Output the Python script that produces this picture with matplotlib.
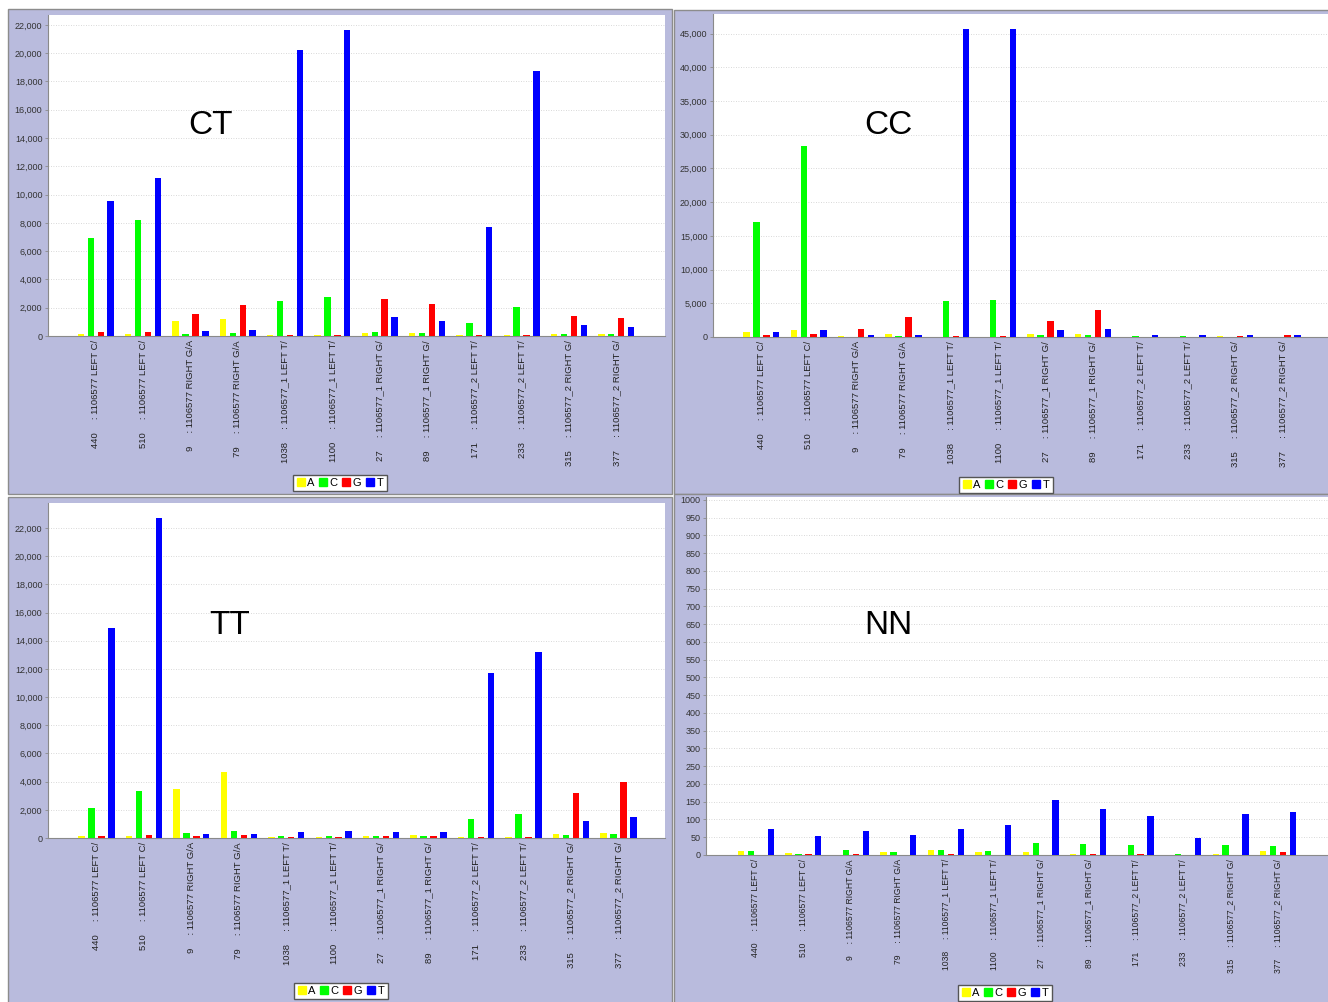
import matplotlib
matplotlib.use("Agg")
import matplotlib.pyplot as plt
import numpy as np
from matplotlib.patches import Rectangle
from matplotlib.ticker import FuncFormatter

plt.rcParams['font.family'] = ['Liberation Sans', 'DejaVu Sans']

W, H = 1328, 1002

bases = ['A', 'C', 'G', 'T']
base_colors = ['#ffff00', '#00ff00', '#ff0000', '#0000ff']

cat_nums = ['440', '510', '9', '79', '1038', '1100', '27', '89', '171', '233', '315', '377']
cat_text = ['1106577 LEFT C/', '1106577 LEFT C/', '1106577 RIGHT G/A', '1106577 RIGHT G/A',
            '1106577_1 LEFT T/', '1106577_1 LEFT T/', '1106577_1 RIGHT G/', '1106577_1 RIGHT G/',
            '1106577_2 LEFT T/', '1106577_2 LEFT T/', '1106577_2 RIGHT G/', '1106577_2 RIGHT G/']

# counts per base, one value per marker
ct_A = [170, 170, 1040, 1180, 80, 80, 210, 210, 60, 100, 170, 140]
ct_C = [6950, 8200, 140, 180, 2475, 2760, 260, 210, 900, 2030, 170, 140]
ct_G = [260, 250, 1530, 2220, 80, 80, 2600, 2260, 60, 80, 1390, 1250]
ct_T = [9575, 11200, 330, 400, 20250, 21640, 1370, 1090, 7710, 18740, 780, 615]

cc_A = [740, 990, 100, 450, 60, 60, 400, 480, 50, 30, 80, 60]
cc_C = [17040, 28300, 50, 80, 5290, 5440, 300, 300, 100, 100, 60, 60]
cc_G = [350, 450, 1240, 2960, 150, 150, 2370, 3950, 30, 30, 200, 250]
cc_T = [700, 1090, 250, 300, 45700, 45700, 1040, 1190, 250, 300, 250, 250]

tt_A = [140, 170, 3460, 4715, 50, 50, 165, 190, 50, 70, 260, 330]
tt_C = [2110, 3320, 355, 470, 120, 140, 140, 165, 1375, 1680, 240, 310]
tt_G = [170, 190, 170, 190, 95, 95, 120, 140, 40, 70, 3200, 3960]
tt_T = [14930, 22700, 260, 260, 430, 520, 400, 400, 11730, 13175, 1210, 1515]

nn_A = [10, 6, 1, 8, 13, 8, 8, 4, 0, 0, 3, 10]
nn_C = [11, 4, 14, 9, 14, 11, 35, 31, 29, 4, 28, 25]
nn_G = [0, 2, 2, 0, 4, 0, 0, 3, 2, 0, 0, 8]
nn_T = [74, 53, 67, 55, 74, 85, 154, 129, 109, 47, 115, 121]

LAVENDER = '#b9bbdd'


def px_box(x0, y0, x1, y1):
    # pixel box (top-left origin) -> figure fraction rect
    return [x0 / W, 1 - y1 / H, (x1 - x0) / W, (y1 - y0) / H]


def draw_panel(fig, panel, plot, xlim, ymax, ystep, series, title, title_xy, legend_xy,
               comma=True, label_size=6.8):
    fr = px_box(*panel)
    fig.patches.append(Rectangle((fr[0], fr[1]), fr[2], fr[3], transform=fig.transFigure,
                                 facecolor=LAVENDER, edgecolor='#8c8c8c', lw=1.0, zorder=-5))
    ax = fig.add_axes(px_box(*plot))
    ax.set_facecolor('white')
    x = np.arange(len(cat_nums))
    step, width = 0.21, 0.135
    for i, (vals, col) in enumerate(zip(series, base_colors)):
        ax.bar(x + (i - 1.5) * step, vals, width=width, color=col, zorder=3)
    ax.set_xlim(*xlim)
    ax.set_ylim(0, ymax)
    ax.set_yticks(np.arange(0, ymax + 1, ystep))
    if comma:
        ax.yaxis.set_major_formatter(FuncFormatter(lambda v, p: f"{int(v):,}"))
    else:
        ax.yaxis.set_major_formatter(FuncFormatter(lambda v, p: f"{int(v)}"))
    ax.grid(axis='y', color='#cccccc', lw=0.6, linestyle=(0, (1, 2)), zorder=0)
    for s in ['top', 'right']:
        ax.spines[s].set_visible(False)
    for s in ['left', 'bottom']:
        ax.spines[s].set_color('#8a8a8a')
        ax.spines[s].set_linewidth(0.8)
    ax.tick_params(axis='y', labelsize=6.5, colors='#8a8a8a', labelcolor='#333333', length=2, width=0.6, pad=2)
    ax.set_xticks(x)
    ax.set_xticklabels([f"{n}     : {t}" for n, t in zip(cat_nums, cat_text)],
                       rotation=90, fontsize=label_size, color='#222222')
    ax.tick_params(axis='x', length=0, pad=3)

    fig.text(title_xy[0] / W, 1 - title_xy[1] / H, title, fontsize=24, ha='center', va='center')
    handles = [Rectangle((0, 0), 1, 1, color=c) for c in base_colors]
    leg = fig.legend(handles, bases, loc='center', ncol=4,
                     bbox_to_anchor=(legend_xy[0] / W, 1 - legend_xy[1] / H),
                     fontsize=8, handlelength=0.7, handleheight=0.7, handletextpad=0.25,
                     columnspacing=0.4, borderpad=0.3, fancybox=False, framealpha=1)
    leg.get_frame().set_edgecolor('#555555')
    leg.get_frame().set_linewidth(1.0)
    return ax


fig = plt.figure(figsize=(W / 100, H / 100), dpi=100, facecolor='white')

draw_panel(fig, (8, 9, 672, 494), (48, 15, 665, 336), (-1.01, 12.03), 22700, 2000,
           [ct_A, ct_C, ct_G, ct_T], 'CT', (210, 125), (340, 483))
draw_panel(fig, (674, 10, 1330, 494), (713, 14, 1328, 337), (-1.02, 11.96), 47900, 5000,
           [cc_A, cc_C, cc_G, cc_T], 'CC', (888, 125), (1006, 485))
draw_panel(fig, (8, 497, 672, 1003), (48, 503, 665, 838), (-1.02, 11.98), 23780, 2000,
           [tt_A, tt_C, tt_G, tt_T], 'TT', (230, 625), (341, 991))
draw_panel(fig, (674, 494, 1330, 1003), (706, 497, 1328, 855), (-1.05, 12.05), 1008, 50,
           [nn_A, nn_C, nn_G, nn_T], 'NN', (888, 625), (1005, 993), comma=False, label_size=6.2)

fig.savefig('out.png', dpi=100, facecolor='white')
